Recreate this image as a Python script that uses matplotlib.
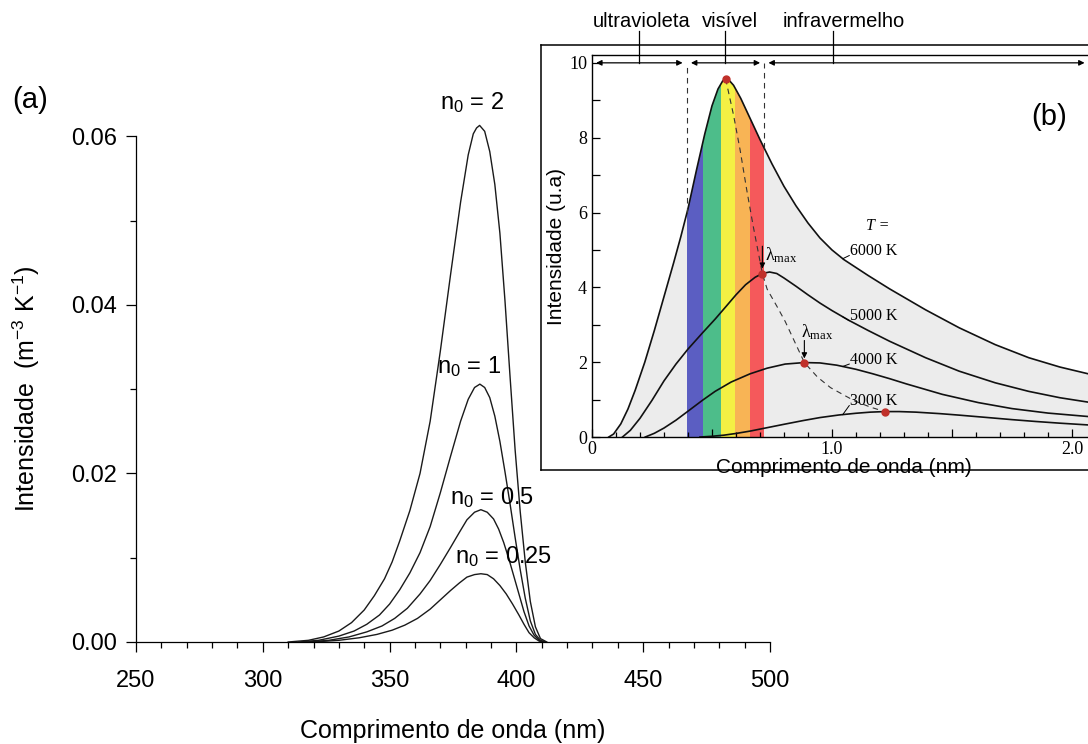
import numpy as np
import matplotlib.pyplot as plt
from matplotlib.ticker import MultipleLocator, FixedLocator, FixedFormatter
from matplotlib.patches import Polygon

plt.rcParams['font.family'] = 'Liberation Sans'
plt.rcParams['mathtext.default'] = 'regular'

# (a) emission curves, wavelength (nm) / intensity
n2_x = [310, 318, 324, 330, 335, 340, 344, 348, 351, 354, 358, 362, 366, 370, 374, 378, 381, 383,
        384.3, 385.5, 387.5, 389.5, 391.5, 393.5, 395.5, 397.5, 399.5, 401.5, 403.5, 405.5, 407.5,
        409.5, 412]
n2_y = [0.0, 0.0002, 0.0006, 0.0013, 0.0023, 0.0038, 0.0055, 0.0075, 0.0095, 0.0120, 0.0156, 0.0200,
        0.0262, 0.0345, 0.0435, 0.0522, 0.0578, 0.0603, 0.0610, 0.0613, 0.0606, 0.0582, 0.0543, 0.0485,
        0.0405, 0.0315, 0.0228, 0.0155, 0.0095, 0.0048, 0.0018, 0.0004, 0.0]

n1_x = [314, 322, 330, 336, 341, 346, 350, 354, 358, 362, 366, 370, 374, 378, 381, 383.5, 385.6,
        387.5, 389.5, 391.5, 393.5, 395.5, 397.5, 399.5, 401.5, 403.5, 405.5, 407.5, 409.5, 411.5]
n1_y = [0.0, 0.0002, 0.0007, 0.0013, 0.0021, 0.0032, 0.0045, 0.0062, 0.0082, 0.0106, 0.0137, 0.0177,
        0.0220, 0.0262, 0.0288, 0.0302, 0.0306, 0.0302, 0.0290, 0.0268, 0.0238, 0.0202, 0.0164, 0.0124,
        0.0086, 0.0052, 0.0025, 0.0009, 0.0002, 0.0]

n05_x = [317, 326, 334, 341, 347, 352, 357, 362, 366, 370, 374, 377.5, 380.5, 383.5, 386, 388.5,
         391, 393, 395, 397, 399, 401, 403, 405, 407, 409, 411]
n05_y = [0.0, 0.0002, 0.0006, 0.0012, 0.0019, 0.0028, 0.0040, 0.0057, 0.0073, 0.0092, 0.0112, 0.0130,
         0.0145, 0.0154, 0.0157, 0.0154, 0.0146, 0.0134, 0.0118, 0.0099, 0.0078, 0.0057, 0.0036, 0.0019,
         0.0008, 0.0002, 0.0]

n025_x = [320, 330, 338, 345, 351, 356, 361, 366, 370, 374, 377.5, 380.5, 383.5, 386, 388.5, 391,
          393.5, 396, 398.5, 401, 403, 405, 407, 409, 411]
n025_y = [0.0, 0.0002, 0.0005, 0.0009, 0.0014, 0.0020, 0.0028, 0.0039, 0.0050, 0.0061, 0.0070, 0.0077,
          0.0080, 0.0081, 0.0080, 0.0075, 0.0067, 0.0057, 0.0045, 0.0032, 0.0021, 0.0011, 0.0005, 0.0001,
          0.0]

curve_labels = ['n$_0$ = 2', 'n$_0$ = 1', 'n$_0$ = 0.5', 'n$_0$ = 0.25']
label_pos = [(369.9, 0.0640), (368.7, 0.0327), (373.8, 0.0171), (375.8, 0.0101)]

# (b) black body curves
t6000_x = [0.07, 0.09, 0.12, 0.15, 0.18, 0.22, 0.26, 0.30, 0.34, 0.37, 0.40, 0.436, 0.47, 0.50, 0.525,
           0.545, 0.557, 0.572, 0.59, 0.62, 0.66, 0.70, 0.75, 0.80, 0.85, 0.90, 0.95, 1.0, 1.05, 1.15,
           1.24, 1.39, 1.53, 1.68, 1.82, 1.95, 2.1]
t6000_y = [0.0, 0.08, 0.35, 0.75, 1.25, 2.0, 2.85, 3.75, 4.65, 5.35, 6.1, 7.15, 8.1, 8.85, 9.3, 9.52,
           9.57, 9.53, 9.4, 9.05, 8.5, 7.95, 7.3, 6.70, 6.18, 5.72, 5.32, 5.0, 4.74, 4.32, 3.96, 3.40,
           2.92, 2.47, 2.12, 1.87, 1.64]

t5000_x = [0.127, 0.16, 0.20, 0.25, 0.30, 0.35, 0.40, 0.46, 0.513, 0.56, 0.60, 0.64, 0.68, 0.71, 0.74,
           0.77, 0.80, 0.85, 0.90, 0.95, 1.0, 1.07, 1.15, 1.24, 1.39, 1.53, 1.68, 1.82, 1.95, 2.1]
t5000_y = [0.0, 0.18, 0.5, 0.98, 1.5, 1.95, 2.35, 2.78, 3.15, 3.5, 3.8, 4.07, 4.27, 4.37, 4.41, 4.37,
           4.25, 4.03, 3.80, 3.58, 3.38, 3.12, 2.85, 2.56, 2.12, 1.76, 1.45, 1.22, 1.05, 0.90]

t4000_x = [0.222, 0.26, 0.30, 0.35, 0.40, 0.46, 0.513, 0.58, 0.659, 0.73, 0.805, 0.885, 0.95, 1.02,
           1.10, 1.17, 1.24, 1.31, 1.46, 1.61, 1.75, 1.90, 2.1]
t4000_y = [0.0, 0.1, 0.24, 0.45, 0.69, 0.98, 1.22, 1.47, 1.69, 1.84, 1.95, 1.99, 1.98, 1.92, 1.81,
           1.69, 1.56, 1.42, 1.14, 0.92, 0.76, 0.64, 0.53]

t3000_x = [0.45, 0.50, 0.55, 0.60, 0.66, 0.73, 0.80, 0.88, 0.95, 1.03, 1.10, 1.16, 1.22, 1.28, 1.35,
           1.45, 1.53, 1.65, 1.75, 1.85, 1.95, 2.1]
t3000_y = [0.0, 0.02, 0.05, 0.095, 0.16, 0.25, 0.34, 0.44, 0.52, 0.59, 0.635, 0.665, 0.68, 0.68, 0.665,
           0.625, 0.585, 0.52, 0.465, 0.415, 0.37, 0.31]

locus_x = [0.557, 0.59, 0.617, 0.645, 0.672, 0.71, 0.73, 0.77, 0.805, 0.885, 0.94, 0.994, 1.05, 1.096,
           1.16, 1.22]
locus_y = [9.57, 8.6, 7.68, 6.6, 5.63, 4.37, 3.95, 3.5, 3.09, 1.99, 1.6, 1.32, 1.12, 0.96, 0.8, 0.68]

peak_x = [0.557, 0.71, 0.885, 1.22]
peak_y = [9.57, 4.37, 1.99, 0.68]

band_edges = [0.397, 0.462, 0.539, 0.598, 0.659, 0.717]
band_colors = ['#5b5ec2', '#4dbd8a', '#f4f044', '#f8b455', '#f5595b']

region_edges = [0.0, 0.395, 0.718, 2.07]
region_names = ['ultravioleta', 'visível', 'infravermelho']
region_label_x = [0.205, 0.575, 1.05]
region_tick_x = [0.198, 0.554, 1.004]

temp_labels = ['6000 K', '5000 K', '4000 K', '3000 K']
temp_label_y = [4.97, 3.23, 2.07, 0.96]

fig = plt.figure(figsize=(10.88, 7.44), dpi=100)

# ---- main plot (a)
ax = fig.add_axes([0.125, 0.1371, 0.5827, 0.7419])
for xs, ys in [(n2_x, n2_y), (n1_x, n1_y), (n05_x, n05_y), (n025_x, n025_y)]:
    ax.plot(xs, ys, color='#1a1a1a', lw=1.0)
for txt, (px, py) in zip(curve_labels, label_pos):
    ax.text(px, py, txt, fontsize=17, ha='left', va='center')

ax.set_xlim(250, 500)
ax.set_ylim(0, 0.0655)
ax.spines['top'].set_visible(False)
ax.spines['right'].set_visible(False)
ax.spines['left'].set_bounds(0, 0.06)
for s in ['left', 'bottom']:
    ax.spines[s].set_linewidth(0.9)
ax.xaxis.set_major_locator(MultipleLocator(50))
ax.xaxis.set_minor_locator(MultipleLocator(10))
ax.yaxis.set_major_locator(FixedLocator([0, 0.02, 0.04, 0.06]))
ax.yaxis.set_minor_locator(FixedLocator([0.01, 0.03, 0.05]))
ax.yaxis.set_major_formatter(FixedFormatter(['0.00', '0.02', '0.04', '0.06']))
ax.tick_params(which='major', direction='out', length=7.5, width=0.9, labelsize=17)
ax.tick_params(which='minor', direction='out', length=4, width=0.9)
ax.tick_params(axis='x', which='major', pad=13)
ax.tick_params(axis='y', which='major', pad=6)
ax.set_xlabel('Comprimento de onda (nm)', fontsize=18)
ax.set_ylabel('Intensidade  (m$^{-3}$ K$^{-1}$)', fontsize=18)
ax.xaxis.set_label_coords(0.5, -0.14)
ax.yaxis.set_label_coords(-0.148, 0.458)

fig.text(0.028, 0.865, '(a)', fontsize=21, ha='center', va='center')

# ---- inset frame
frame = fig.add_axes([0.4972, 0.3683, 0.52, 0.5712])
frame.set_xticks([])
frame.set_yticks([])
frame.set_zorder(2)
for s in frame.spines.values():
    s.set_linewidth(1.1)

# ---- inset (b)
axi = fig.add_axes([0.5441, 0.4126, 0.4632, 0.5135])
axi.set_zorder(3)
axi.set_xlim(0, 2.1)
axi.set_ylim(0, 10.21)

poly = Polygon(list(zip([t6000_x[0]] + t6000_x + [t6000_x[-1]], [0] + t6000_y + [0])),
               closed=True, facecolor='#ececec', edgecolor='none')
axi.add_patch(poly)
for a, b, c in zip(band_edges[:-1], band_edges[1:], band_colors):
    band = axi.axvspan(a, b, color=c, lw=0)
    band.set_clip_path(poly)

for xs, ys in [(t6000_x, t6000_y), (t5000_x, t5000_y), (t4000_x, t4000_y), (t3000_x, t3000_y)]:
    axi.plot(xs, ys, color='#111111', lw=1.2)

for e in region_edges[1:3]:
    axi.plot([e, e], [np.interp(e, t6000_x, t6000_y), 10], color='#333333', lw=0.8, ls=(0, (5, 4)))
axi.plot(locus_x, locus_y, color='#333333', lw=0.8, ls=(0, (5, 4)))
axi.plot(peak_x, peak_y, 'o', color='#c0302a', ms=5, zorder=5)

# region arrows on top
for a, b in zip(region_edges[:-1], region_edges[1:]):
    axi.annotate('', xy=(b, 10), xytext=(a, 10), annotation_clip=False,
                 arrowprops=dict(arrowstyle='<|-|>', color='k', lw=0.9, mutation_scale=8,
                                 shrinkA=3, shrinkB=3))
for tx, lx, name in zip(region_tick_x, region_label_x, region_names):
    axi.plot([tx, tx], [10, 10.85], color='k', lw=0.9, clip_on=False)
    axi.text(lx, 11.1, name, fontsize=14.5, ha='center', va='center', clip_on=False)

# lambda max markers
axi.annotate('', xy=(0.71, 4.5), xytext=(0.71, 5.1),
             arrowprops=dict(arrowstyle='-|>', color='k', lw=0.8, mutation_scale=8, shrinkA=0, shrinkB=0))
axi.text(0.72, 4.85, 'λ$_{max}$', family='Liberation Serif', fontsize=13, va='center')
axi.annotate('', xy=(0.885, 2.1), xytext=(0.885, 2.58),
             arrowprops=dict(arrowstyle='-|>', color='k', lw=0.8, mutation_scale=8, shrinkA=0, shrinkB=0))
axi.text(0.87, 2.8, 'λ$_{max}$', family='Liberation Serif', fontsize=13, va='center')

axi.text(1.14, 5.65, 'T =', family='Liberation Serif', style='italic', fontsize=11.5, va='center')
for curve, lab, ly in zip([(t6000_x, t6000_y), (t5000_x, t5000_y), (t4000_x, t4000_y), (t3000_x, t3000_y)],
                          temp_labels, temp_label_y):
    cy = np.interp(1.045, curve[0], curve[1])
    axi.plot([1.045, 1.072], [cy, ly - 0.12], color='k', lw=0.7)
    axi.text(1.075, ly, lab, family='Liberation Serif', fontsize=11.5, va='center')

axi.spines['right'].set_visible(False)
for s in ['left', 'bottom', 'top']:
    axi.spines[s].set_linewidth(1.0)
axi.xaxis.set_major_locator(FixedLocator([0, 0.5, 1.0, 1.5, 2.0]))
axi.xaxis.set_major_formatter(FixedFormatter(['0', '', '1.0', '', '2.0']))
axi.xaxis.set_minor_locator(MultipleLocator(0.1))
axi.yaxis.set_major_locator(MultipleLocator(2))
axi.yaxis.set_minor_locator(MultipleLocator(1))
axi.tick_params(which='both', direction='in', top=False, right=False, width=0.9,
                labelsize=13, labelfontfamily='Liberation Serif')
axi.tick_params(which='major', length=6)
axi.tick_params(axis='x', which='minor', length=3.5)
axi.tick_params(axis='y', which='minor', length=6)
axi.tick_params(axis='x', pad=3)
axi.set_xlabel('Comprimento de onda (nm)', fontsize=15)
axi.set_ylabel('Intensidade (u.a)', fontsize=15)
axi.xaxis.set_label_coords(0.5, -0.055)
axi.yaxis.set_label_coords(-0.052, 0.5)

fig.text(0.964, 0.843, '(b)', fontsize=21, ha='center', va='center')

fig.savefig('out.png', dpi=100)
